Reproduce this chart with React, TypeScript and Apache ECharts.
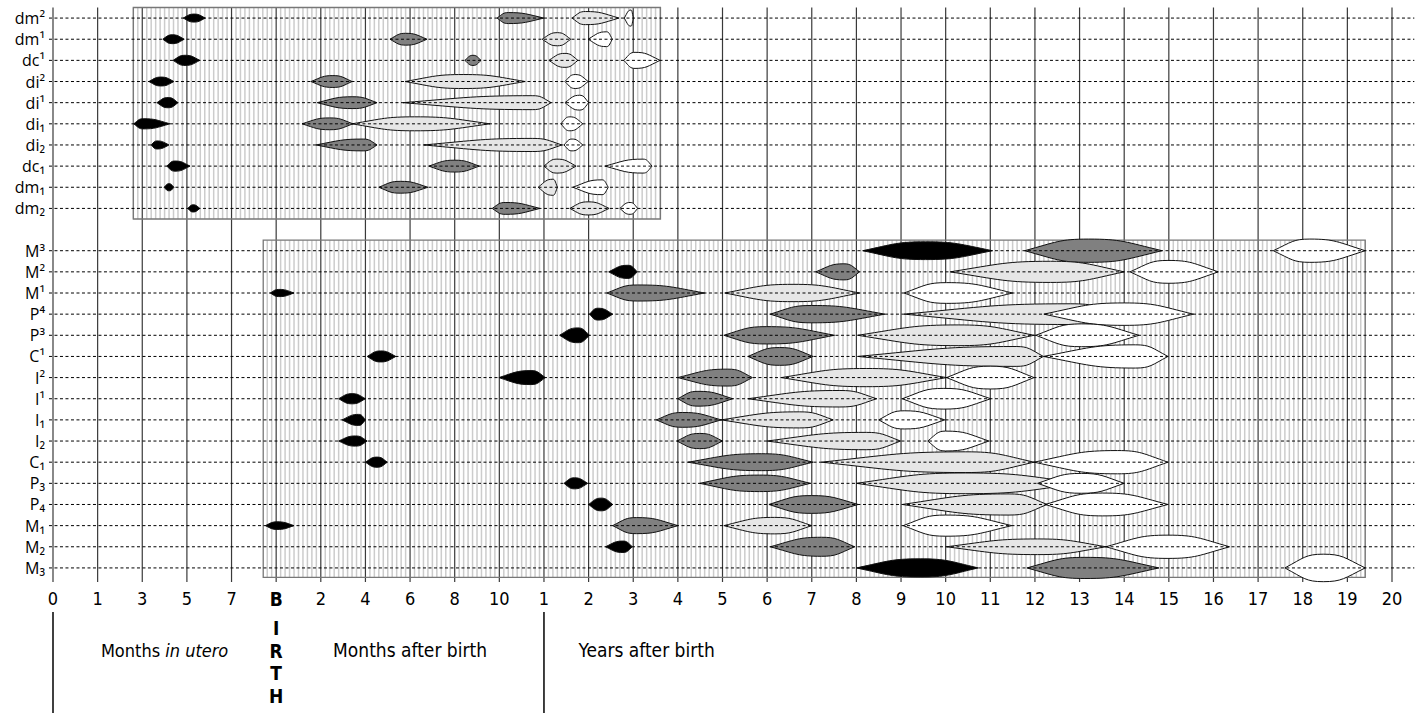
import React, { useEffect, useRef } from "react";
import * as echarts from "echarts";

// Axis positions are equally spaced: 0..30 (months in utero | birth | months after birth | years)
const tickLabels = ["0", "1", "3", "5", "7", "B", "2", "4", "6", "8", "10", "1", "2", "3", "4", "5", "6", "7", "8", "9", "10", "11", "12", "13", "14", "15", "16", "17", "18", "19", "20"];
const rowLabels = ["dm²", "dm¹", "dc¹", "di²", "di¹", "di₁", "di₂", "dc₁", "dm₁", "dm₂", "", "M³", "M²", "M¹", "P⁴", "P³", "C¹", "I²", "I¹", "I₁", "I₂", "C₁", "P₃", "P₄", "M₁", "M₂", "M₃"];

// Each entry: [row, start, widest, end, half-thickness (in rows)]
const stageBlack = [
  [0, 2.92, 3.16, 3.41, 0.19], [1, 2.46, 2.67, 2.94, 0.21], [2, 2.69, 2.96, 3.29, 0.24], [3, 2.15, 2.42, 2.71, 0.21],
  [4, 2.33, 2.58, 2.8, 0.24], [5, 1.81, 2.02, 2.62, 0.24], [6, 2.2, 2.33, 2.6, 0.19], [7, 2.55, 2.73, 3.07, 0.24],
  [8, 2.49, 2.6, 2.71, 0.17], [9, 3.02, 3.14, 3.29, 0.17],
  [11, 18.14, 19.55, 21.05, 0.42], [12, 12.45, 12.88, 13.09, 0.31], [13, 4.87, 5.06, 5.4, 0.17], [14, 12.02, 12.21, 12.54, 0.28],
  [15, 11.35, 11.76, 12.02, 0.35], [16, 7.04, 7.34, 7.68, 0.26], [17, 9.99, 10.71, 11.03, 0.33], [18, 6.4, 6.7, 7.0, 0.24],
  [19, 6.48, 6.85, 7.0, 0.26], [20, 6.4, 6.78, 7.04, 0.24], [21, 7.0, 7.26, 7.49, 0.24], [22, 11.45, 11.68, 11.98, 0.26],
  [23, 12.0, 12.28, 12.54, 0.3], [24, 4.76, 5.02, 5.4, 0.18], [25, 12.38, 12.77, 12.98, 0.27], [26, 18.0, 19.43, 20.73, 0.43],
];
const stageDark = [
  [0, 9.95, 10.2, 11.0, 0.26], [1, 7.55, 7.9, 8.38, 0.28], [2, 9.23, 9.41, 9.59, 0.24], [3, 5.78, 6.27, 6.7, 0.28],
  [4, 5.92, 6.72, 7.26, 0.28], [5, 5.58, 6.2, 6.72, 0.28], [6, 5.89, 6.95, 7.26, 0.28], [7, 8.42, 9.0, 9.55, 0.28],
  [8, 7.3, 7.78, 8.4, 0.28], [9, 9.84, 10.13, 10.91, 0.28],
  [11, 21.77, 23.2, 24.85, 0.55], [12, 17.09, 17.72, 18.07, 0.38], [13, 12.41, 13.1, 14.6, 0.38], [14, 16.07, 16.99, 18.64, 0.41],
  [15, 15.03, 15.98, 17.51, 0.41], [16, 15.57, 16.28, 17.03, 0.42], [17, 14.0, 15.12, 15.67, 0.4], [18, 14.0, 14.45, 15.23, 0.35],
  [19, 13.52, 14.11, 14.97, 0.35], [20, 13.98, 14.49, 15.0, 0.36], [21, 14.23, 15.87, 17.03, 0.4], [22, 14.49, 15.83, 16.97, 0.39],
  [23, 16.04, 16.99, 18.04, 0.42], [24, 12.54, 13.07, 14.0, 0.38], [25, 16.07, 17.22, 17.96, 0.45], [26, 21.82, 23.12, 24.78, 0.5],
];
const stageLight = [
  [0, 11.63, 11.93, 12.68, 0.31], [1, 10.96, 11.3, 11.6, 0.31], [2, 11.11, 11.47, 11.76, 0.33], [3, 7.89, 9.19, 10.58, 0.33],
  [4, 7.84, 10.75, 11.16, 0.33], [5, 6.7, 8.1, 9.79, 0.33], [6, 8.31, 10.75, 11.4, 0.31], [7, 11.0, 11.29, 11.72, 0.33],
  [8, 10.87, 11.2, 11.3, 0.38], [9, 11.58, 11.99, 12.46, 0.31],
  [12, 20.1, 22.35, 24.0, 0.5], [13, 15.05, 16.58, 18.07, 0.41], [14, 19.07, 22.8, 24.0, 0.49],
  [15, 18.03, 20.28, 21.98, 0.49], [16, 18.03, 21.58, 22.19, 0.47], [17, 16.32, 18.22, 20.02, 0.43], [18, 15.57, 17.63, 18.45, 0.39],
  [19, 14.97, 16.73, 17.48, 0.38], [20, 16.0, 18.22, 18.99, 0.41], [21, 17.22, 20.45, 21.98, 0.49], [22, 18.0, 20.45, 23.04, 0.49],
  [23, 19.03, 21.42, 22.27, 0.5], [24, 15.03, 16.17, 17.0, 0.39], [25, 20.02, 22.06, 23.59, 0.37],
];
const stageWhite = [
  [0, 12.8, 12.95, 13.0, 0.38], [1, 11.99, 12.4, 12.53, 0.35], [2, 12.79, 13.04, 13.6, 0.38], [3, 11.47, 11.7, 11.99, 0.33],
  [4, 11.47, 11.8, 12.0, 0.35], [5, 11.38, 11.58, 11.87, 0.33], [6, 11.45, 11.63, 11.87, 0.28], [7, 12.37, 13.22, 13.42, 0.33],
  [8, 11.65, 12.3, 12.44, 0.35], [9, 12.7, 12.93, 13.1, 0.28],
  [11, 27.34, 28.16, 29.4, 0.55], [12, 24.13, 24.98, 26.11, 0.54], [13, 19.07, 20.02, 21.5, 0.49], [14, 22.2, 24.0, 25.55, 0.53],
  [15, 22.02, 23.04, 24.33, 0.54], [16, 22.19, 24.25, 24.98, 0.55], [17, 20.02, 21.0, 21.98, 0.54], [18, 19.03, 19.96, 21.01, 0.49],
  [19, 18.5, 19.07, 19.98, 0.43], [20, 19.6, 20.0, 20.97, 0.47], [21, 21.98, 23.85, 24.98, 0.55], [22, 22.06, 23.04, 24.0, 0.47],
  [23, 22.23, 23.52, 24.98, 0.54], [24, 19.05, 20.0, 21.48, 0.5], [25, 23.59, 24.98, 26.36, 0.55], [26, 27.6, 28.46, 29.4, 0.65],
];
// shaded panels: [xStart, xEnd, rowTop, rowBottom]
const panels = [
  [1.8, 13.61, -0.5, 9.5],
  [4.71, 29.4, 10.5, 26.45],
];

const NARROW = '"Liberation Sans Narrow", "DejaVu Sans Condensed", "Noto Sans", sans-serif';
const SANS = '"Open Sans", "DejaVu Sans", sans-serif';

function spindle(color: string) {
  return (params: any, api: any) => {
    const r = api.value(0);
    const a = api.coord([api.value(1), r]);
    const p = api.coord([api.value(2), r]);
    const b = api.coord([api.value(3), r]);
    const h = Math.abs(api.size([0, api.value(4)])[1]);
    const y = a[1];
    const wl = p[0] - a[0];
    const wr = b[0] - p[0];
    const d =
      `M${a[0]},${y} C${a[0] + 0.5 * wl},${y - 0.75 * h} ${p[0] - 0.45 * wl},${y - h} ${p[0]},${y - h} ` +
      `C${p[0] + 0.45 * wr},${y - h} ${b[0] - 0.5 * wr},${y - 0.75 * h} ${b[0]},${y} ` +
      `C${b[0] - 0.5 * wr},${y + 0.75 * h} ${p[0] + 0.45 * wr},${y + h} ${p[0]},${y + h} ` +
      `C${p[0] - 0.45 * wl},${y + h} ${a[0] + 0.5 * wl},${y + 0.75 * h} ${a[0]},${y} Z`;
    return {
      type: "path",
      shape: { pathData: d },
      style: { fill: color, stroke: "#111", lineWidth: 1 },
    };
  };
}

export default function App() {
  const ref = useRef<HTMLDivElement>(null);
  useEffect(() => {
    if (!ref.current) return;
    const chart = echarts.init(ref.current, null, { renderer: "svg" });
    const rowsWithLabel = rowLabels.map((l, i) => (l ? i : -1)).filter((i) => i >= 0);
    const option: any = {
      animation: false,
      grid: { left: 53, right: 26, top: 7.5, height: 571, containLabel: false, outerBoundsMode: "none" },
      xAxis: {
        type: "value",
        min: 0,
        max: 30,
        interval: 1,
        axisLine: { show: false },
        axisTick: { show: false },
        splitLine: { show: false },
        axisLabel: {
          margin: 11,
          showMinLabel: true,
          showMaxLabel: true,
          fontFamily: NARROW,
          fontSize: 18,
          color: "#000",
          formatter: (v: number) => {
            const t = tickLabels[Math.round(v)] ?? "";
            return t === "B" ? "{b|B}" : t;
          },
          rich: { b: { fontFamily: NARROW, fontSize: 19, fontWeight: "bold", color: "#000" } },
        },
      },
      yAxis: [
        {
          type: "category",
          data: rowLabels,
          inverse: true,
          axisLine: { show: false },
          axisTick: { show: false },
          splitLine: { show: false },
          axisLabel: { interval: 0, margin: 8, fontFamily: SANS, fontSize: 16, color: "#000" },
        },
        { type: "value", min: -0.5, max: 26.5, inverse: true, show: false },
      ],
      series: [
        {
          type: "custom",
          yAxisIndex: 1,
          silent: true,
          data: tickLabels.map((_, i) => [i]),
          renderItem: (params: any, api: any) => {
            const i = api.value(0);
            const t = api.coord([i, -0.5]);
            const b = api.coord([i, 26.66]);
            return { type: "line", shape: { x1: t[0], y1: t[1], x2: b[0], y2: b[1] }, style: { stroke: "#3a3a3a", lineWidth: 1.2 } };
          },
        },
        {
          type: "custom",
          yAxisIndex: 1,
          silent: true,
          data: panels,
          renderItem: (params: any, api: any) => {
            const x0 = api.value(0), x1 = api.value(1), y0 = api.value(2), y1 = api.value(3);
            const tl = api.coord([x0, y0]);
            const br = api.coord([x1, y1]);
            const children: any[] = [];
            for (let k = Math.ceil(x0 * 10); k <= Math.floor(x1 * 10); k++) {
              if (k % 10 === 0) continue;
              const px = api.coord([k / 10, y0])[0];
              children.push({ type: "line", shape: { x1: px, y1: tl[1], x2: px, y2: br[1] }, style: { stroke: "#cccccc", lineWidth: 1.5 } });
            }
            children.push({
              type: "rect",
              shape: { x: tl[0], y: tl[1], width: br[0] - tl[0], height: br[1] - tl[1] },
              style: { fill: "none", stroke: "#777", lineWidth: 1.3 },
            });
            return { type: "group", children };
          },
        },
        { type: "custom", yAxisIndex: 1, silent: true, data: stageBlack, renderItem: spindle("#000000") },
        { type: "custom", yAxisIndex: 1, silent: true, data: stageDark, renderItem: spindle("#808080") },
        { type: "custom", yAxisIndex: 1, silent: true, data: stageLight, renderItem: spindle("#e6e6e6") },
        { type: "custom", yAxisIndex: 1, silent: true, data: stageWhite, renderItem: spindle("#ffffff") },
        {
          type: "custom",
          yAxisIndex: 1,
          silent: true,
          data: rowsWithLabel.map((r) => [r]),
          renderItem: (params: any, api: any) => {
            const r = api.value(0);
            const a = api.coord([-0.09, r]);
            const b = api.coord([30.5, r]);
            return { type: "line", shape: { x1: a[0], y1: a[1], x2: b[0], y2: b[1] }, style: { stroke: "#000", lineWidth: 1, lineDash: [3, 2.5] } };
          },
        },
      ],
    };
    chart.setOption(option);

    const px = (v: number) => chart.convertToPixel({ xAxisIndex: 0 }, v) as number;
    const x0 = px(0), xB = px(5), xY = px(11);
    const txt = (text: string, x: number, y: number, extra: any = {}) => ({
      type: "text",
      x,
      y,
      style: { text, fontFamily: NARROW, fontSize: 19, fill: "#000", align: "center", verticalAlign: "middle", ...extra },
    });
    chart.setOption({
      graphic: [
        { type: "line", shape: { x1: x0, y1: 612, x2: x0, y2: 713 }, style: { stroke: "#000", lineWidth: 1.5 } },
        { type: "line", shape: { x1: xY, y1: 612, x2: xY, y2: 713 }, style: { stroke: "#000", lineWidth: 1.5 } },
        txt("{n|Months }{i|in utero}", (x0 + xB) / 2, 650, {
          rich: {
            n: { fontFamily: NARROW, fontSize: 18, fill: "#000" },
            i: { fontFamily: NARROW, fontSize: 18, fontStyle: "italic", fill: "#000" },
          },
        }),
        txt("Months after birth", (xB + xY) / 2, 650),
        txt("Years after birth", px(13.3), 650),
        ...["I", "R", "T", "H"].map((l, k) => txt(l, xB, 628 + 22.7 * k, { fontWeight: "bold" })),
      ],
    });
    return () => chart.dispose();
  }, []);
  return <div ref={ref} style={{ position: "fixed", left: 0, top: 0, width: 1418, height: 715, background: "#fff" }} />;
}
